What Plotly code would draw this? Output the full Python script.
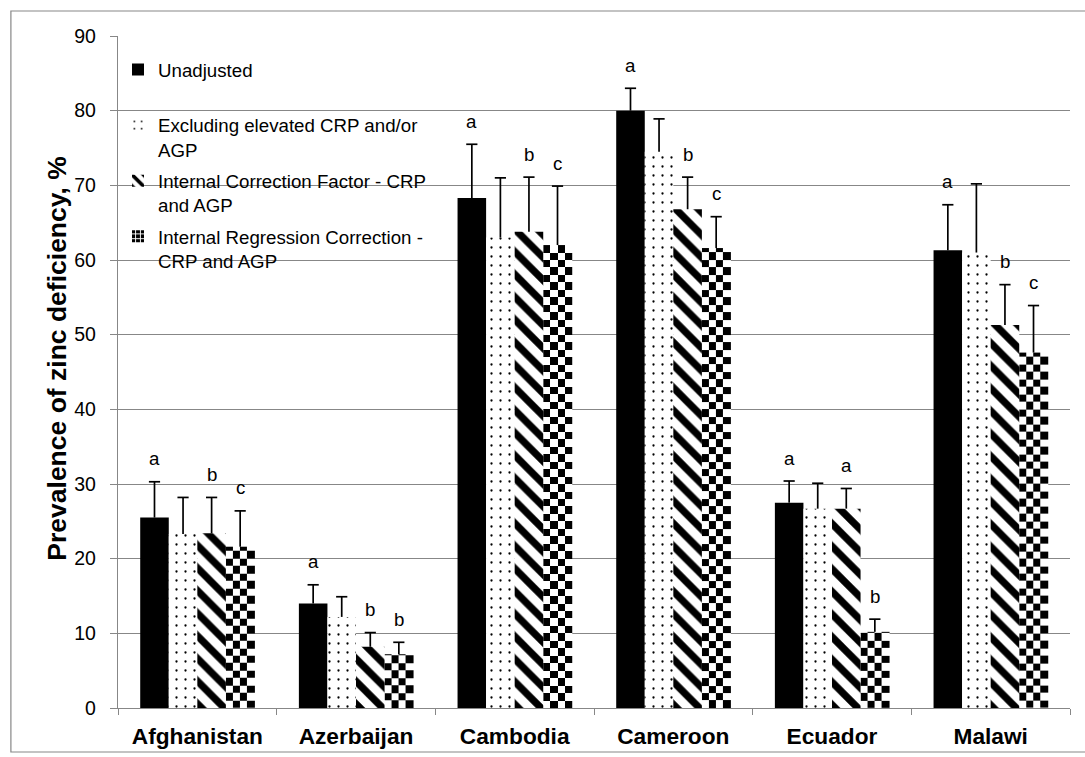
import numpy as np
import plotly.graph_objects as go

# ---- data -------------------------------------------------------------
countries = ["Afghanistan", "Azerbaijan", "Cambodia", "Cameroon", "Ecuador", "Malawi"]

series_names = [
    "Unadjusted<br>&nbsp;",
    "Excluding elevated CRP and/or<br>AGP",
    "Internal Correction Factor - CRP<br>and AGP",
    "Internal Regression Correction -<br>CRP and AGP",
]

unadjusted = [25.5, 14.0, 68.3, 80.0, 27.5, 61.3]
unadjusted_err = [4.8, 2.5, 7.2, 3.0, 2.9, 6.1]

excluding = [23.3, 12.2, 63.0, 74.5, 26.7, 61.0]
excluding_err = [4.9, 2.7, 8.0, 4.4, 3.4, 9.2]

correction_factor = [23.4, 8.2, 63.8, 66.8, 26.7, 51.3]
correction_factor_err = [4.8, 1.9, 7.3, 4.3, 2.7, 5.4]

regression = [21.6, 7.2, 62.0, 61.6, 10.2, 47.6]
regression_err = [4.8, 1.6, 7.9, 4.2, 1.7, 6.3]

# significance letters over the bars ("" = no letter)
letters_unadjusted = ["a", "a", "a", "a", "a", "a"]
letters_excluding = ["", "", "", "", "", ""]
letters_correction_factor = ["b", "b", "b", "b", "a", "b"]
letters_regression = ["c", "b", "c", "c", "b", "c"]

y_ticks = [0, 10, 20, 30, 40, 50, 60, 70, 80, 90]

# ---- styling ----------------------------------------------------------
FONT = "Liberation Sans, Arial, sans-serif"
GRID = "#878787"
BAR_W = 0.18
CHECK_ROW = 1.0      # checker square height in axis units
CHECK_COLS = 4

values = [unadjusted, excluding, correction_factor, regression]
errors = [unadjusted_err, excluding_err, correction_factor_err, regression_err]
letters = [letters_unadjusted, letters_excluding, letters_correction_factor, letters_regression]

idx = np.arange(len(countries))
offsets = [(k - 1.5) * BAR_W for k in range(4)]
xpos = [idx + o for o in offsets]

err_style = dict(type="data", symmetric=False, width=0, thickness=1.7, color="black")

fig = go.Figure()

# checkerboard fill for the regression-corrected bars
for i, v in enumerate(regression):
    left = xpos[3][i] - BAR_W / 2
    right = xpos[3][i] + BAR_W / 2
    x_edges = np.linspace(left, right, CHECK_COLS + 1)
    y_edges = np.arange(0, v, CHECK_ROW)
    y_edges = np.append(y_edges, v)
    z = [[(r + c) % 2 for c in range(CHECK_COLS)] for r in range(len(y_edges) - 1)]
    fig.add_trace(go.Heatmap(
        x=x_edges, y=y_edges, z=z,
        colorscale=[[0, "white"], [1, "black"]], zmin=0, zmax=1,
        showscale=False, hoverinfo="skip", zsmooth=False,
    ))

patterns = [
    None,
    dict(shape=".", fgcolor="black", bgcolor="white", size=9, solidity=0.05, fillmode="replace"),
    dict(shape="\\", fgcolor="black", bgcolor="white", size=16, solidity=0.45, fillmode="replace"),
]

for k in range(3):
    marker = dict(color="black" if k == 0 else "white", line=dict(width=0))
    if patterns[k] is not None:
        marker["pattern"] = patterns[k]
    fig.add_trace(go.Bar(
        x=xpos[k], y=values[k], width=BAR_W, name=series_names[k],
        marker=marker, legendgroup=f"g{k}",
        error_y=dict(array=errors[k], arrayminus=[0] * len(countries), **err_style),
        hoverinfo="skip",
    ))

# transparent carrier for the regression bars' error lines
fig.add_trace(go.Bar(
    x=xpos[3], y=regression, width=BAR_W, showlegend=False,
    marker=dict(color="rgba(0,0,0,0)", line=dict(width=0)),
    error_y=dict(array=regression_err, arrayminus=[0] * len(countries), **err_style),
    hoverinfo="skip",
))
# legend entry for the regression series
fig.add_trace(go.Bar(
    x=[None], y=[None], name=series_names[3], legendgroup="g3",
    marker=dict(color="black", line=dict(width=0),
                pattern=dict(shape="+", fgcolor="white", bgcolor="black", size=6,
                             solidity=0.35, fillmode="replace")),
))

# error-bar caps
cap_x, cap_y = [], []
for k in range(4):
    for i in range(len(countries)):
        cap_x.append(xpos[k][i])
        cap_y.append(values[k][i] + errors[k][i])
fig.add_trace(go.Scatter(
    x=cap_x, y=cap_y, mode="markers", showlegend=False, hoverinfo="skip",
    marker=dict(symbol="line-ew", size=8, line=dict(width=1.7, color="black")),
))

# significance letters
for k in range(4):
    for i in range(len(countries)):
        if letters[k][i]:
            fig.add_annotation(
                x=xpos[k][i], y=values[k][i] + errors[k][i], text=letters[k][i],
                showarrow=False, yanchor="middle", yshift=23,
                font=dict(family=FONT, size=18.7, color="black"),
            )

# y-axis title
fig.add_annotation(
    xref="paper", yref="paper", x=-0.065, y=0.52, xanchor="center", yanchor="middle",
    text="<b>Prevalence of zinc deficiency, %</b>", textangle=-90, showarrow=False,
    font=dict(family=FONT, size=26.5, color="black"),
)

# outer frame
fig.add_shape(type="rect", xref="paper", yref="paper",
              x0=-0.1125, x1=1.05, y0=-0.0655, y1=1.0372,
              line=dict(color=GRID, width=1.2), fillcolor="rgba(0,0,0,0)", layer="below")

fig.update_layout(
    width=1085, height=757,
    margin=dict(l=118, r=15, t=36, b=49),
    paper_bgcolor="white", plot_bgcolor="white",
    barmode="overlay",
    font=dict(family=FONT, color="black"),
    showlegend=True,
    legend=dict(
        x=0.0, y=0.978, xanchor="left", yanchor="top",
        bgcolor="rgba(0,0,0,0)", font=dict(family=FONT, size=18.7, color="black"),
        valign="top", traceorder="grouped", tracegroupgap=4,
    ),
    xaxis=dict(
        range=[-0.5, 5.5], tickmode="array", tickvals=list(idx), ticktext=countries,
        ticks="", showgrid=False, zeroline=False, automargin=False,
        showline=True, linecolor=GRID, linewidth=1.3,
        tickfont=dict(family=FONT, size=22.7, color="black", weight="bold"),
        ticklabelstandoff=8,
        minor=dict(tick0=0.5, dtick=1, ticks="outside", ticklen=6, tickcolor=GRID, tickwidth=1.3,
                   showgrid=False),
    ),
    yaxis=dict(
        range=[0, 90], tickmode="array", tickvals=y_ticks, automargin=False,
        showgrid=True, gridcolor=GRID, gridwidth=1.3, zeroline=False,
        showline=True, linecolor=GRID, linewidth=1.3,
        ticks="outside", ticklen=7, tickcolor=GRID, tickwidth=1.3,
        tickfont=dict(family=FONT, size=19.5, color="black"),
        ticklabelstandoff=10,
    ),
)

fig.write_html("out.html")
